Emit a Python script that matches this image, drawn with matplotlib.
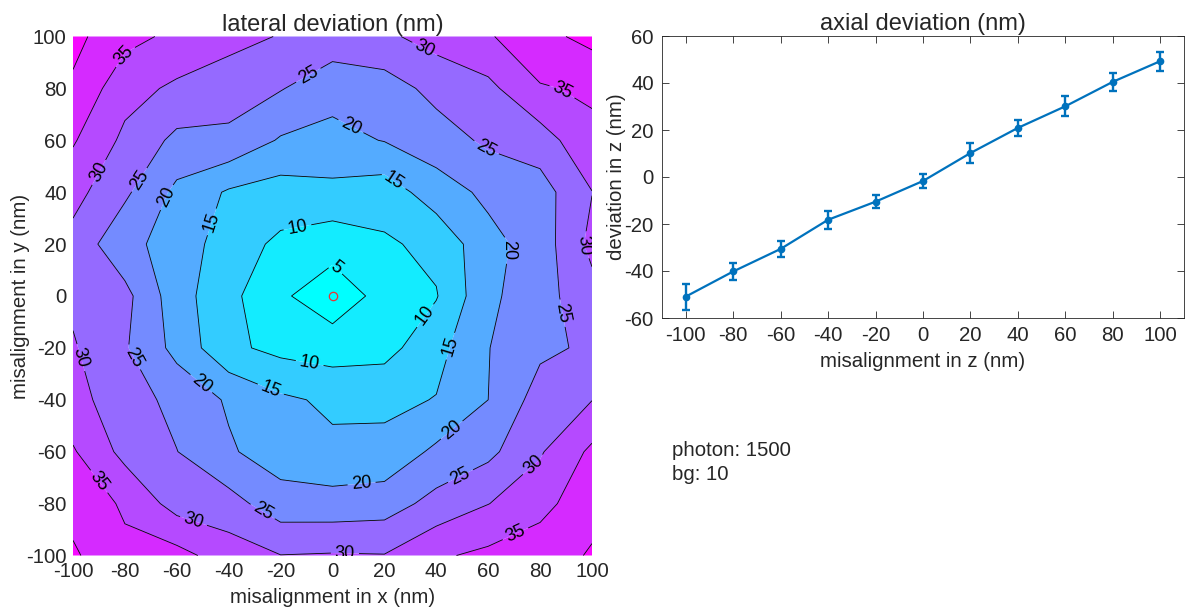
import numpy as np
import matplotlib
matplotlib.use("Agg")
import matplotlib.pyplot as plt

plt.rcParams['font.family'] = ['Liberation Sans', 'DejaVu Sans']
plt.rcParams['axes.unicode_minus'] = False

# scan grid (nm)
misalign_x = [-100, -80, -60, -40, -20, 0, 20, 40, 60, 80, 100]
misalign_y = [100, 80, 60, 40, 20, 0, -20, -40, -60, -80, -100]

# lateral deviation (nm): one list per y offset, columns follow misalign_x
lat_y_p100 = [41.4, 36.5, 33.9, 31.8, 29.7, 28.0, 29.1, 31.9, 34.5, 38.5, 41.5]
lat_y_p80 = [39.2, 31.8, 29.1, 27.0, 25.3, 21.8, 22.7, 26.5, 28.7, 34.6, 35.7]
lat_y_p60 = [35.5, 28.9, 23.8, 24.0, 19.5, 18.5, 20.2, 22.7, 25.9, 27.6, 33.9]
lat_y_p40 = [31.7, 25.9, 18.8, 14.4, 12.8, 13.7, 12.3, 17.6, 21.1, 22.85, 29.9]
lat_y_p20 = [28.3, 21.4, 18.0, 12.4, 9.0, 7.0, 9.3, 11.3, 18.4, 22.3, 31.4]
lat_y_0 = [29.0, 26.5, 17.1, 11.4, 5.8, 2.0, 6.7, 9.7, 18.9, 23.1, 28.2]
lat_y_m20 = [30.5, 25.5, 18.5, 11.1, 8.6, 7.6, 8.3, 13.3, 19.85, 24.0, 25.8]
lat_y_m40 = [31.6, 27.4, 23.5, 19.4, 15.9, 14.1, 13.8, 15.2, 20.0, 27.2, 29.9]
lat_y_m60 = [35.5, 28.5, 25.1, 20.6, 17.5, 16.0, 16.5, 21.0, 23.75, 29.5, 36.0]
lat_y_m80 = [38.3, 34.3, 28.0, 26.9, 22.15, 22.0, 22.6, 26.7, 29.9, 33.0, 39.0]
lat_y_m100 = [40.7, 36.1, 36.7, 32.5, 30.1, 30.4, 30.2, 34.3, 36.1, 38.5, 40.3]

# axial scan
misalign_z = [-100, -80, -60, -40, -20, 0, 20, 40, 60, 80, 100]
axial_dev = [-50.9, -40.2, -30.6, -18.2, -10.5, -1.7, 10.2, 20.9, 30.1, 40.5, 49.3]
axial_err = [5.5, 3.6, 3.5, 3.9, 2.8, 3.1, 4.2, 3.5, 4.3, 3.8, 4.0]

photon_count = 1500
background = 10

# where the contour level labels sit (data coordinates)
label_spots = [
    (-78.8, 91.7), (37.0, 98.0), (-9.4, 85.2), (88.8, 79.4), (6.7, 64.7),
    (58.8, 56.3), (-89.6, 47.4), (-75.5, 45.4), (-64.5, 38.3), (-46.6, 28.6),
    (-13.8, 28.0), (23.4, 44.0), (68.4, 17.7), (97.3, 19.7), (1.0, 10.7),
    (36.3, -8.0), (88.3, -6.7), (45.9, -19.5), (-8.7, -25.3), (-98.0, -24.0),
    (-77.4, -24.0), (-51.0, -34.3), (-23.4, -35.0), (45.9, -51.6), (11.2, -72.2),
    (48.5, -67.7), (77.4, -65.1), (-90.9, -72.2), (-53.0, -85.0), (-27.3, -83.7),
    (4.8, -98.5), (71.6, -94.0),
]

TXT = '#262626'
FS = 14.7

fig = plt.figure(figsize=(11.85, 6.13), dpi=100)
W, H = 1185.0, 613.0

# ---- lateral deviation map ----
ax1 = fig.add_axes([73 / W, 1 - 555.5 / H, 519 / W, 519 / H])
Z = np.array([lat_y_p100, lat_y_p80, lat_y_p60, lat_y_p40, lat_y_p20, lat_y_0,
              lat_y_m20, lat_y_m40, lat_y_m60, lat_y_m80, lat_y_m100])
X, Y = np.meshgrid(misalign_x, misalign_y)
levels = np.arange(0, 50, 5)
zmin, zmax = Z.min(), Z.max()
fill_colors = [plt.cm.cool(float(np.clip((lv - zmin) / (zmax - zmin), 0, 1)))
               for lv in levels[:-1]]
ax1.contourf(X, Y, Z, levels=levels, colors=fill_colors, antialiased=True)
cs = ax1.contour(X, Y, Z, levels=levels[1:-1], colors='k', linewidths=0.6)
ax1.clabel(cs, manual=label_spots, fmt='%d', fontsize=13, inline=True,
           inline_spacing=4, colors='k')
ax1.plot(0, 0, 'o', mfc='none', mec=(0.92, 0.2, 0.2), ms=6, mew=0.9)
ax1.set_xlim(-100, 100)
ax1.set_ylim(-100, 100)
ax1.set_xticks(range(-100, 101, 20))
ax1.set_yticks(range(-100, 101, 20))
ax1.tick_params(length=0, labelsize=FS, labelcolor=TXT, pad=4.5)
for sp in ax1.spines.values():
    sp.set_visible(False)
ax1.set_title('lateral deviation (nm)', fontsize=17, color=TXT, pad=4)
ax1.set_xlabel('misalignment in x (nm)', fontsize=FS, color=TXT, va='center')
ax1.set_ylabel('misalignment in y (nm)', fontsize=FS, color=TXT, va='center')
ax1.xaxis.set_label_coords(0.5, -0.0815)
ax1.yaxis.set_label_coords(-0.102, 0.5)

# ---- axial deviation ----
ax2 = fig.add_axes([662 / W, 1 - 318 / H, 522 / W, 282 / H])
ax2.errorbar(misalign_z, axial_dev, yerr=axial_err, color='#0072BD', lw=1.6,
             marker='o', ms=4.5, capsize=3.2, elinewidth=1.7, capthick=1.7)
ax2.set_xlim(-110, 110)
ax2.set_ylim(-60, 60)
ax2.set_xticks(range(-100, 101, 20))
ax2.set_yticks(range(-60, 61, 20))
ax2.tick_params(direction='in', top=True, right=True, length=5, width=0.6,
                color=TXT, labelsize=FS, labelcolor=TXT, pad=6)
for sp in ax2.spines.values():
    sp.set_color(TXT)
    sp.set_linewidth(0.6)
ax2.set_title('axial deviation (nm)', fontsize=17, color=TXT, pad=4)
ax2.set_xlabel('misalignment in z (nm)', fontsize=FS, color=TXT, va='center')
ax2.set_ylabel('deviation in z (nm)', fontsize=FS, color=TXT, va='center')
ax2.xaxis.set_label_coords(0.5, -0.1525)
ax2.yaxis.set_label_coords(-0.088, 0.5)

# simulation settings
fig.text(672 / W, 1 - 450 / H, f'photon: {photon_count}', fontsize=FS,
         color=TXT, va='center')
fig.text(672 / W, 1 - 475 / H, f'bg: {background}', fontsize=FS,
         color=TXT, va='center')

fig.savefig('out.png', dpi=100)
